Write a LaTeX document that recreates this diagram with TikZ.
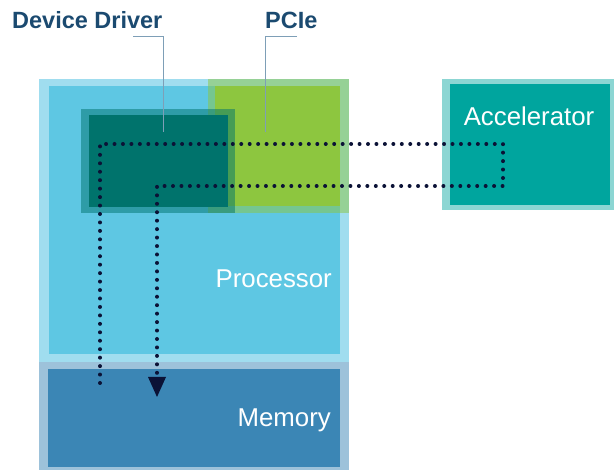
\documentclass[tikz,border=0pt]{standalone}
\usepackage{fontspec}
\setmainfont{Liberation Sans}
\usetikzlibrary{arrows.meta}
\definecolor{procout}{HTML}{A0DDEF}
\definecolor{procin}{HTML}{5EC7E3}
\definecolor{memin}{HTML}{3B86B5}
\definecolor{pcigreen}{HTML}{8DC63F}
\definecolor{ddteal}{HTML}{00736C}
\definecolor{accin}{HTML}{00A59E}
\definecolor{titleblue}{HTML}{1B4A70}
\definecolor{leader}{HTML}{7E9FB7}
\definecolor{dotnavy}{HTML}{0B1236}
\tikzset{
  box/.style={rectangle, draw=none, inner sep=0pt, outer sep=0pt, anchor=north west},
  title/.style={font=\fontsize{23.5}{26}\selectfont\bfseries, text=titleblue, inner sep=0pt},
  boxlabel/.style={font=\fontsize{25.8}{28}\selectfont, text=white, inner sep=0pt},
  leaderline/.style={draw=leader, line width=1pt},
  dotpath/.style={draw=dotnavy, line width=4pt, line cap=round, dash pattern=on 0pt off 8.45pt}
}
\begin{document}
\begin{tikzpicture}[x=1pt,y=-1pt]
\useasboundingbox (0,0) rectangle (614,470);
% processor
\node[box, fill=procout, minimum width=310pt, minimum height=283pt] (procO) at (39,79) {};
\node[box, fill=procin, minimum width=291pt, minimum height=268pt] (procI) at (49,86) {};
% memory
\node[box, fill=memin, fill opacity=0.5, minimum width=310pt, minimum height=108pt] (memO) at (39,362) {};
\node[box, fill=memin, minimum width=292pt, minimum height=98pt] (memI) at (48,369) {};
% PCIe
\node[box, fill=pcigreen, fill opacity=0.5, minimum width=141pt, minimum height=134pt] (pcieO) at (208,79) {};
\node[box, fill=pcigreen, minimum width=125pt, minimum height=120pt] (pcieI) at (215,86) {};
% device driver
\node[box, fill=ddteal, fill opacity=0.5, minimum width=154pt, minimum height=104pt] (ddO) at (81,109) {};
\node[box, fill=ddteal, minimum width=139pt, minimum height=92pt] (ddI) at (89,115) {};
% accelerator
\node[box, fill=accin, fill opacity=0.45, minimum width=172pt, minimum height=131pt] (accO) at (442,79) {};
\node[box, fill=accin, minimum width=160pt, minimum height=121pt] (accI) at (450,84) {};
% labels
\node[boxlabel, anchor=base] (acclab) at (529,126) {Accelerator};
\node[boxlabel, anchor=base east] (proclab) at (332,288) {Processor};
\node[boxlabel, anchor=base east] (memlab) at (331,427) {Memory};
\node[title, anchor=base west] (ddtitle) at (12,29) {Device Driver};
\node[title, anchor=base west] (pcietitle) at (265,29) {PCIe};
% leader lines
\coordinate (ddL) at (133,37);
\coordinate (ddC) at (163,37);
\coordinate (ddE) at (163,132);
\draw[leaderline] (ddL) -- (ddC) -- (ddE);
\coordinate (pcR) at (297,37);
\coordinate (pcC) at (265,37);
\coordinate (pcE) at (265,132);
\draw[leaderline] (pcR) -- (pcC) -- (pcE);
% dotted path
\coordinate (s) at (100,383);
\coordinate (c1) at (100,144);
\coordinate (c2) at (503,144);
\coordinate (c3) at (503,186);
\coordinate (c4) at (157,186);
\coordinate (e) at (157,397);
\draw[dotpath] (s) -- (c1) -- (c2) -- (c3) -- (c4) -- (157,377);
\fill[dotnavy] (148,377) -- (166,377) -- (e) -- cycle;
\end{tikzpicture}
\end{document}
